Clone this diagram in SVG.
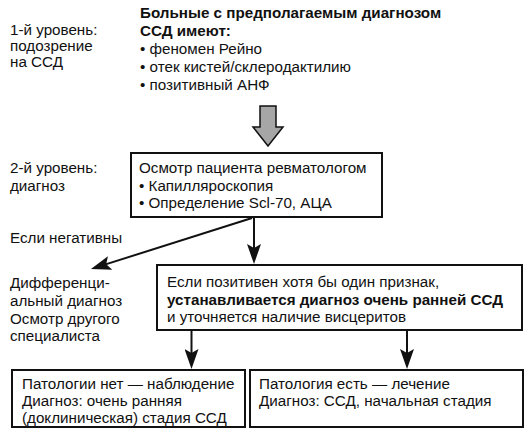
<svg xmlns="http://www.w3.org/2000/svg" width="531" height="441" viewBox="0 0 531 441">
<style>
text{font-family:"Liberation Sans",Arial,Helvetica,sans-serif;font-size:15.2px;fill:#111}
.b{font-weight:bold}
.box{fill:#fff;stroke:#111;stroke-width:2}
.con{fill:none;stroke:#111;stroke-width:2}
</style>
<defs>
<marker id="ah" markerUnits="userSpaceOnUse" markerWidth="20" markerHeight="14" viewBox="0 0 20 14" refX="8" refY="7" orient="auto">
<path d="M0,0 L20,7 L0,14 L4,7 z" fill="#111"/>
</marker>
</defs>
<rect width="531" height="441" fill="#fff"/>
<g id="level1-label">
<text x="10" y="35">1-й уровень:</text>
<text x="10" y="51">подозрение</text>
<text x="10" y="67">на ССД</text>
</g>
<g id="suspicion">
<text x="140" y="18" class="b">Больные с предполагаемым диагнозом</text>
<text x="140" y="36" class="b">ССД имеют:</text>
<text x="140" y="54">• феномен Рейно</text>
<text x="140" y="72">• отек кистей/склеродактилию</text>
<text x="140" y="90">• позитивный АНФ</text>
</g>
<g id="level2-label">
<text x="10" y="173">2-й уровень:</text>
<text x="10" y="190.5">диагноз</text>
</g>
<g id="rheumatologist">
<rect class="box" x="131" y="153" width="251" height="64"/>
<text x="139" y="173">Осмотр пациента ревматологом</text>
<text x="139" y="190.5">• Капилляроскопия</text>
<text x="139" y="208">• Определение Scl-70, АЦА</text>
</g>
<g id="negative-label">
<text x="10" y="243">Если негативны</text>
</g>
<g id="differential">
<text x="10" y="288">Дифференци-</text>
<text x="10" y="306">альный диагноз</text>
<text x="10" y="323.5">Осмотр другого</text>
<text x="10" y="341">специалиста</text>
</g>
<g id="positive">
<rect class="box" x="157" y="265" width="365" height="65"/>
<text x="167" y="287">Если позитивен хотя бы один признак,</text>
<text x="167" y="305" class="b">устанавливается диагноз очень ранней ССД</text>
<text x="167" y="322">и уточняется наличие висцеритов</text>
</g>
<g id="no-pathology">
<rect class="box" x="12" y="370" width="233" height="57"/>
<text x="22" y="389">Патологии нет — наблюдение</text>
<text x="22" y="406">Диагноз: очень ранняя</text>
<text x="22" y="423">(доклиническая) стадия ССД</text>
</g>
<g id="pathology">
<rect class="box" x="250" y="370" width="273" height="57"/>
<text x="259" y="389">Патология есть — лечение</text>
<text x="259" y="406">Диагноз: ССД, начальная стадия</text>
</g>
<g id="connectors">
<path d="M260,106 H276 V127 H283 L268,146 L253,127 H260 Z" fill="#a6a6a6" stroke="#111" stroke-width="1.5" stroke-linejoin="miter"/>
<path class="con" d="M254,217 V252" marker-end="url(#ah)"/>
<path class="con" d="M252,218 L102.4,265.4" marker-end="url(#ah)"/>
<path class="con" d="M191.5,330 V357" marker-end="url(#ah)"/>
<path class="con" d="M407,330 V357" marker-end="url(#ah)"/>
</g>
</svg>
